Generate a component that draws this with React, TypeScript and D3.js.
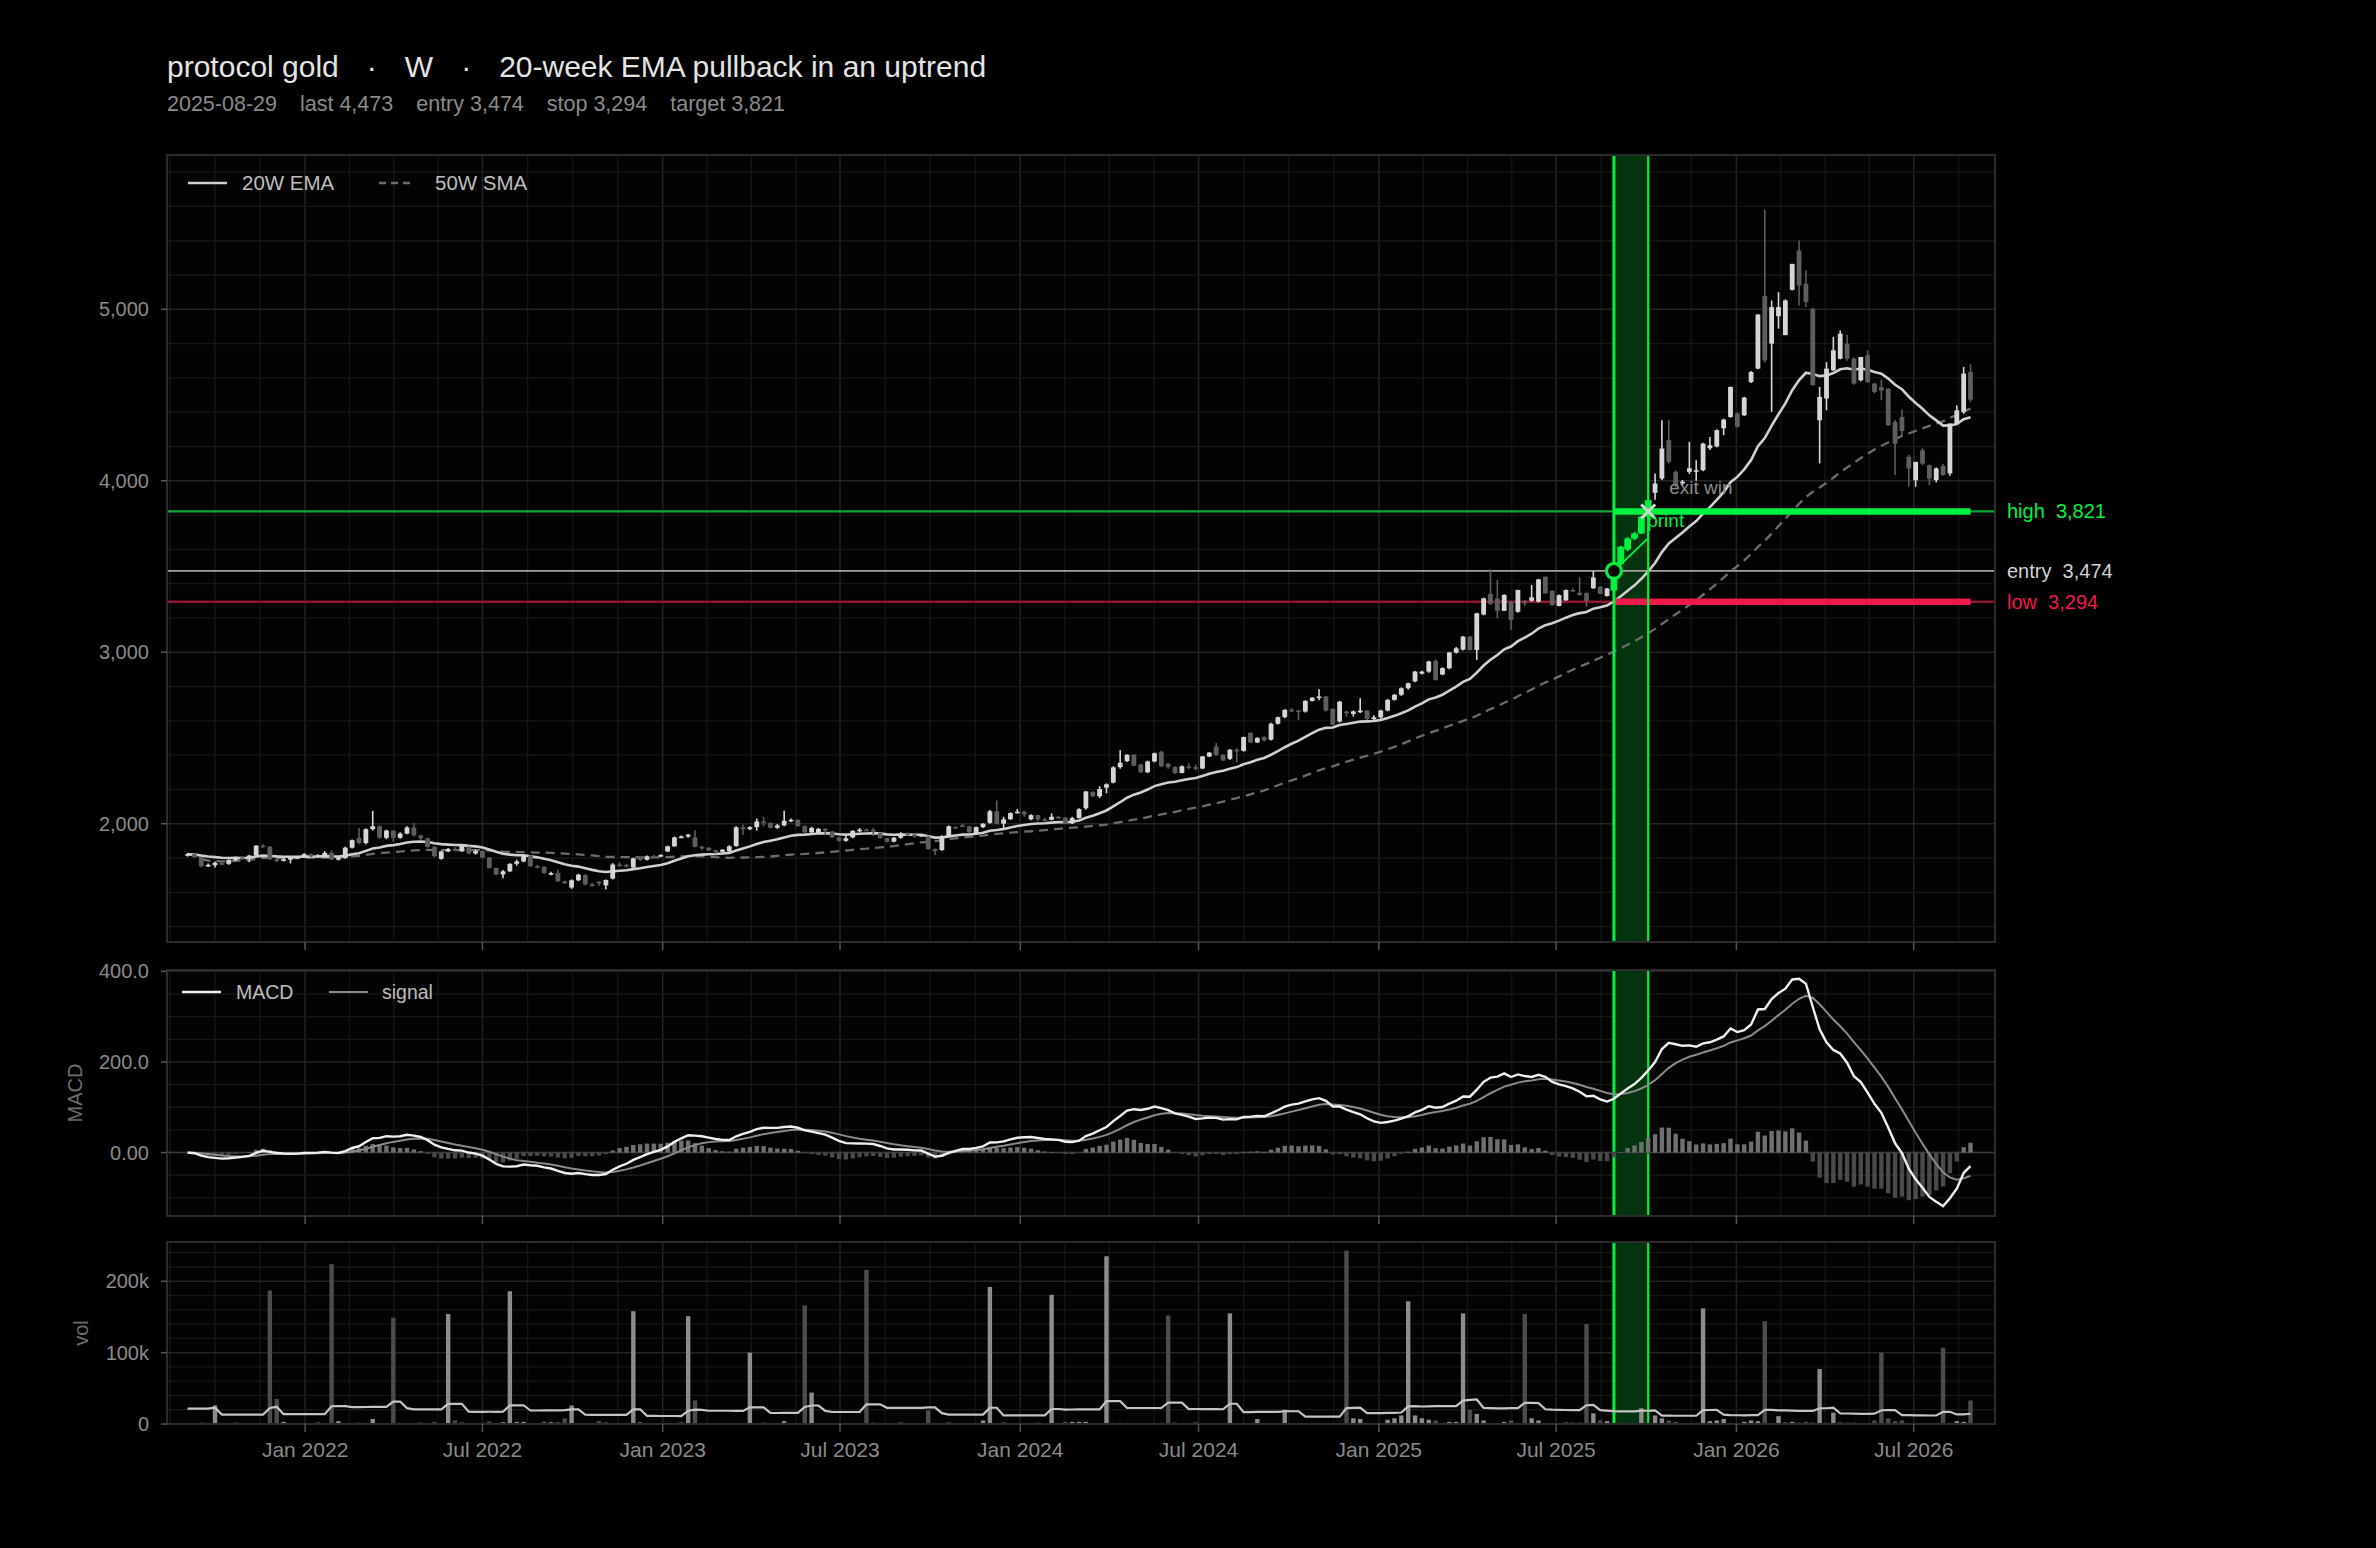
import React from 'react';
import * as d3 from 'd3';

// ---------------- data ----------------
const START_DATE = '2021-09-03';
const SIGNAL_DATE = '2025-08-29';
const ENTRY_PRICE = 3474;
const STOP_PRICE = 3294;
const TARGET_PRICE = 3821;
const LAST_PRICE = 4473;
const ENTRY_INDEX = 208;
const EXIT_INDEX = 213;
const TRADE_PATH = [3474, 3666];

const opens = [
  1815,1822,1805,1752,1758,1770,1766,1788,1802,1800,
  1815,1872,1866,1792,1785,1792,1800,1806,1822,1810,
  1815,1830,1792,1800,1860,1917,1887,1968,1985,1918,
  1960,1918,1942,1978,1932,1915,1864,1795,1838,1852,
  1840,1865,1826,1840,1802,1742,1704,1722,1766,1780,
  1814,1752,1748,1712,1712,1664,1628,1670,1700,1646,
  1662,1640,1680,1762,1760,1745,1798,1790,1810,1808,
  1838,1868,1920,1925,1920,1865,1860,1845,1836,1840,
  1870,1979,1968,1980,2013,2004,1976,1990,2017,2023,
  1986,1950,1946,1970,1955,1920,1900,1920,1958,1965,
  1964,1945,1916,1895,1918,1942,1936,1926,1925,1852,
  1846,1926,1980,1990,1984,1942,1980,2005,2072,2000,
  2026,2062,2070,2025,2050,2025,2023,2040,2035,2002,
  2033,2090,2185,2160,2210,2240,2330,2365,2402,2345,
  2300,2363,2420,2350,2330,2296,2335,2330,2322,2392,
  2450,2402,2378,2431,2425,2530,2474,2505,2490,2583,
  2621,2664,2660,2654,2716,2735,2742,2670,2596,2654,
  2640,2650,2660,2610,2620,2660,2722,2752,2790,2830,
  2875,2887,2950,2870,2907,2998,3015,3091,3013,3220,
  3340,3314,3242,3294,3236,3300,3300,3295,3440,3359,
  3270,3302,3363,3347,3345,3373,3382,3328,3360,3515,
  3600,3663,3693,3790,3930,4013,4237,4052,3990,4052,
  4055,4062,4190,4200,4306,4372,4392,4382,4576,4654,
  5077,4800,4960,4850,5114,5343,5149,5003,4353,4480,
  4644,4712,4800,4712,4586,4732,4567,4546,4537,4343,
  4372,4140,4003,4178,4091,4004,4086,4043,4334,4400,
  4635,
];
const highs = [
  1830,1826,1808,1768,1780,1778,1792,1808,1810,1818,
  1875,1880,1870,1798,1800,1810,1812,1828,1826,1822,
  1840,1845,1806,1866,1908,1975,1972,2075,1990,1965,
  1962,1950,1985,2004,1935,1918,1870,1840,1858,1862,
  1876,1870,1850,1845,1806,1745,1730,1770,1790,1818,
  1818,1760,1752,1720,1732,1668,1675,1708,1706,1655,
  1665,1675,1770,1775,1765,1802,1805,1815,1818,1822,
  1872,1925,1932,1940,1962,1872,1862,1848,1852,1874,
  1985,1995,1985,2030,2040,2008,1998,2076,2030,2026,
  1990,1982,1975,1975,1958,1922,1932,1962,1975,1972,
  1975,1948,1918,1922,1950,1948,1945,1940,1930,1855,
  1932,1990,1986,2000,1988,1984,2002,2080,2135,2040,
  2066,2085,2075,2055,2052,2035,2060,2046,2040,2040,
  2090,2190,2190,2218,2235,2335,2430,2405,2405,2350,
  2368,2415,2425,2352,2335,2340,2352,2345,2395,2418,
  2470,2405,2435,2440,2508,2534,2505,2510,2588,2624,
  2668,2675,2665,2720,2738,2784,2745,2672,2716,2660,
  2660,2732,2662,2632,2665,2728,2756,2795,2822,2890,
  2892,2950,2960,2912,3002,3030,3095,3095,3230,3318,
  3483,3421,3338,3300,3365,3305,3392,3428,3442,3360,
  3336,3366,3372,3436,3350,3473,3385,3375,3520,3620,
  3670,3700,3795,3890,4043,4353,4353,4060,4005,4227,
  4120,4222,4256,4300,4362,4550,4400,4490,4640,4970,
  5580,5052,5100,5058,5265,5401,5226,5008,4547,4692,
  4838,4877,4850,4720,4722,4760,4570,4590,4540,4355,
  4415,4150,4110,4190,4095,4078,4100,4334,4440,4664,
  4680,
];
const lows = [
  1808,1800,1745,1748,1745,1758,1760,1782,1792,1775,
  1810,1860,1788,1775,1780,1768,1795,1800,1805,1802,
  1810,1788,1785,1795,1855,1880,1880,1960,1912,1910,
  1895,1912,1938,1925,1905,1860,1805,1790,1835,1840,
  1835,1822,1820,1798,1738,1700,1682,1718,1755,1775,
  1748,1740,1708,1700,1660,1648,1620,1665,1640,1632,
  1636,1616,1675,1748,1745,1740,1782,1785,1798,1805,
  1835,1865,1915,1918,1862,1848,1840,1825,1830,1835,
  1866,1935,1962,1960,1985,1972,1970,1985,2010,1982,
  1946,1944,1940,1935,1916,1895,1895,1915,1950,1958,
  1928,1912,1890,1892,1912,1930,1918,1922,1848,1818,
  1842,1920,1975,1980,1945,1938,1975,2000,1996,1975,
  2022,2060,2040,2020,2014,2018,2020,2030,1998,1998,
  2030,2082,2155,2150,2178,2235,2320,2360,2335,2296,
  2295,2358,2330,2320,2290,2294,2318,2310,2318,2388,
  2395,2366,2372,2360,2420,2470,2470,2480,2485,2578,
  2615,2650,2605,2648,2712,2720,2655,2575,2590,2625,
  2625,2645,2605,2595,2612,2655,2718,2745,2782,2825,
  2870,2880,2835,2866,2900,2992,3010,3010,2955,3215,
  3275,3198,3240,3130,3230,3270,3295,3290,3342,3272,
  3268,3300,3355,3330,3265,3370,3340,3325,3345,3505,
  3590,3655,3690,3780,3890,4005,4100,3960,3975,4040,
  4000,4055,4180,4195,4266,4368,4310,4378,4570,4650,
  4690,4402,4887,4848,5110,5022,5013,4557,4101,4411,
  4640,4708,4700,4560,4580,4570,4510,4470,4320,4033,
  4265,3965,3965,4090,3975,3990,4030,4030,4330,4390,
  4460,
];
const closes = [
  1822,1805,1752,1760,1772,1766,1788,1802,1800,1814,
  1872,1866,1792,1785,1792,1800,1806,1822,1810,1815,
  1830,1792,1800,1860,1904,1887,1968,1985,1918,1960,
  1918,1942,1978,1932,1915,1864,1810,1838,1852,1850,
  1872,1826,1840,1802,1742,1704,1722,1766,1780,1814,
  1752,1748,1712,1712,1664,1652,1670,1703,1646,1642,
  1652,1672,1762,1760,1752,1798,1790,1810,1808,1818,
  1868,1920,1925,1936,1865,1860,1845,1836,1848,1868,
  1979,1968,1980,2013,2004,1976,1990,2017,2023,1986,
  1950,1975,1970,1965,1920,1900,1915,1958,1965,1964,
  1960,1916,1895,1918,1942,1936,1926,1935,1852,1840,
  1926,1985,1979,1984,1950,1980,2000,2072,2000,2025,
  2062,2070,2054,2050,2025,2023,2040,2037,2002,2033,
  2085,2188,2160,2202,2230,2328,2355,2402,2338,2300,
  2363,2411,2335,2330,2296,2335,2330,2320,2392,2414,
  2402,2369,2431,2425,2505,2474,2500,2485,2583,2621,
  2664,2660,2654,2716,2735,2742,2660,2577,2712,2645,
  2655,2660,2610,2620,2660,2722,2752,2790,2819,2887,
  2887,2946,2838,2907,2998,3023,3091,3013,3227,3314,
  3282,3242,3334,3188,3363,3285,3320,3425,3343,3275,
  3333,3363,3362,3334,3300,3436,3340,3372,3515,3615,
  3663,3693,3790,3887,3984,4188,4110,3975,3994,4073,
  4062,4217,4207,4295,4357,4547,4315,4485,4634,4970,
  4702,5013,5013,5052,5265,5139,5042,4557,4489,4654,
  4761,4858,4712,4567,4722,4576,4518,4527,4324,4217,
  4290,4072,4110,4100,4013,4072,4033,4334,4411,4625,
  4473,
];
// weekly volume, thousands
const volumesK = [
  1.5,1.2,2,1.5,26,1.5,1.2,1.8,1.5,1.2,
  1.5,1.5,187,35,3,1.5,1.2,1.5,1.2,2,
  1.5,224,4,1.5,1.5,2,1.5,7,1.5,1.2,
  149,1.5,1.2,1.5,2,1.5,3,1.2,154,5,
  2,1.5,1.2,1.5,3.5,1.5,2.5,186,3,3,
  1.5,1.2,3.5,2.5,2.5,8,26,1.5,1.2,1.5,
  4,2,1.5,1.2,1.5,158,3,1.5,1.2,1.5,
  1.2,1.5,2,151,33,1.5,1.2,1.5,1.2,1.5,
  1.2,1.5,100,1.5,2,1.2,1.5,4,1.2,1.5,
  166,44,1.5,1.2,1.5,1.2,1.5,1.2,1.5,216,
  2,1.5,1.2,1.5,2,1.2,1.5,1.2,19,1.5,
  1.2,2,1.5,1.2,1.5,1.2,5,192,1.5,2,
  1.2,1.5,1.2,1.5,2,1.2,181,1.5,3,3,
  3,3,1.5,1.2,235,1.5,1.5,1.5,1.5,1.2,
  1.5,1.2,1.5,152,2,1.2,1.5,2.5,1.2,1.5,
  1.2,1.5,155,1.2,1.5,1.2,7,1.5,1.2,1.5,
  20,1.2,1.5,1.2,1.5,1.2,1.5,1.2,1.5,243,
  8,7,1.5,1.2,1.5,6,8,12,172,12,
  8,6,5,1.5,3,3,155,20,14,5,
  1.5,1.2,3,5,1.5,154,8,5,1.5,1.2,
  1.5,2,2,2,140,15,5,4,1.2,1.5,
  1,1.2,22,1.5,12,8,5,3,1.5,1.2,
  1.5,162,4,5,7,1.5,1.2,3,5,4,
  144,1.5,11,2,3,2,3,2,77,1.5,
  16,2,2,2,1.5,1.5,5,100,8,4,
  5,1.5,1.2,1.5,1.5,1.5,107,1.5,4,3,
  33,
];
// the 19 weeks before the first drawn bar (warm-up of the volume average)
const volumesPriorK = [1.5,1.5,1.5,1.5,195,1.5,1.5,1.5,1.5,1.5,1.5,1.5,1.5,210,1.5,1.5,1.5,1.5,1.5];

const priceTicks = [2000, 3000, 4000, 5000];
const macdTicks = [0, 200, 400];
const macdTickLabels = ['0.00', '200.0', '400.0'];
const volTicks = [0, 100000, 200000];
const volTickLabels = ['0', '100k', '200k'];

const priceDomain = [1310, 5900];
const macdDomain = [-140, 403];
const volDomain = [0, 255000];

// ---------------- helpers ----------------
function ema(arr: number[], n: number): number[] {
  const k = 2 / (n + 1);
  const out: number[] = [];
  arr.forEach((v, i) => out.push(i === 0 ? v : v * k + out[i - 1] * (1 - k)));
  return out;
}
function sma(arr: number[], n: number): number[] {
  return arr.map((_, i) => d3.mean(arr.slice(Math.max(0, i - n + 1), i + 1)) as number);
}

const FONT = "'Liberation Sans', Arial, Helvetica, sans-serif";
const GREEN = '#00f23e';
const RED = '#ef1a4a';

export default function App() {
  const W = 2376, H = 1548;
  const L = 167, R = 1995;
  const main = { top: 155, bottom: 942 };
  const mp = { top: 970, bottom: 1216 };
  const vp = { top: 1242, bottom: 1424 };

  const start = d3.timeParse('%Y-%m-%d')(START_DATE)!;
  const n = closes.length;
  const dates = closes.map((_, i) => d3.timeDay.offset(start, 7 * i));
  const x = d3.scaleTime()
    .domain([d3.timeDay.offset(start, -21), d3.timeDay.offset(dates[n - 1], 25)])
    .range([L, R]);
  const yP = d3.scaleLinear().domain(priceDomain).range([main.bottom, main.top]);
  const yM = d3.scaleLinear().domain(macdDomain).range([mp.bottom, mp.top]);
  const yV = d3.scaleLinear().domain(volDomain).range([vp.bottom, vp.top]);

  const ema20 = ema(closes, 20);
  const sma50 = sma(closes, 50);
  const ema12 = ema(closes, 12);
  const ema26 = ema(closes, 26);
  const macd = ema12.map((v, i) => v - ema26[i]);
  const signal = ema(macd, 9);
  const hist = macd.map((v, i) => v - signal[i]);
  const volumes = volumesK.map(v => v * 1000);
  const allVol = volumesPriorK.map(v => v * 1000).concat(volumes);
  const off = volumesPriorK.length;
  const volMA = volumes.map((_, i) => d3.mean(allVol.slice(Math.max(0, i + off - 19), i + off + 1)) as number);

  const majors = x.ticks(d3.timeMonth.every(6)!);
  const halfYears = d3.timeMonth.every(6)!.range(new Date(2021, 0, 1), new Date(2027, 6, 2));
  const minors: Date[] = [];
  for (let k = 0; k < halfYears.length - 1; k++) {
    const a = +halfYears[k], b = +halfYears[k + 1];
    for (let q = 1; q < 4; q++) minors.push(new Date(a + (b - a) * q / 4));
  }
  const inX = (d: Date) => x(d) > L + 0.5 && x(d) < R - 0.5;

  const xEntry = x(dates[ENTRY_INDEX]);
  const xExit = x(dates[EXIT_INDEX]);
  const xLastBar = x(dates[n - 1]);
  const signalDate = d3.timeParse('%Y-%m-%d')(SIGNAL_DATE)!;

  const line = (ys: number[], yScale: (v: number) => number) =>
    d3.line<number>().x((_, i) => x(dates[i])).y(v => yScale(v))(ys) || '';

  const fmt = d3.format(',');

  const vGrid = (top: number, bottom: number) => (
    <g>
      {minors.filter(inX).map((d, i) => (
        <line key={'mn' + i} x1={x(d)} x2={x(d)} y1={top} y2={bottom} stroke="#161616" strokeWidth={1.3} />
      ))}
      {majors.filter(inX).map((d, i) => (
        <line key={'mj' + i} x1={x(d)} x2={x(d)} y1={top} y2={bottom} stroke="#232323" strokeWidth={1.5} />
      ))}
    </g>
  );
  const hGrid = (vals: number[], majorVals: number[], yS: (v: number) => number, key: string) => (
    <g>
      {vals.map((v, i) => (
        <line key={key + i} x1={L} x2={R} y1={yS(v)} y2={yS(v)}
          stroke={majorVals.includes(v) ? '#242424' : '#171717'} strokeWidth={majorVals.includes(v) ? 1.5 : 1.3} />
      ))}
    </g>
  );
  const xTicks = (bottom: number) => (
    <g>
      {majors.filter(inX).map((d, i) => (
        <line key={'xt' + i} x1={x(d)} x2={x(d)} y1={bottom} y2={bottom + 8} stroke="#555" strokeWidth={1.5} />
      ))}
    </g>
  );
  const yTicks = (vals: number[], labels: string[], yS: (v: number) => number) => (
    <g>
      {vals.map((v, i) => (
        <g key={'yt' + i}>
          <line x1={L - 6} x2={L} y1={yS(v)} y2={yS(v)} stroke="#555" strokeWidth={1.5} />
          <text x={149} y={yS(v)} dy="0.35em" textAnchor="end" fontSize={20} fill="#8a8a8a">{labels[i]}</text>
        </g>
      ))}
    </g>
  );
  const band = (top: number, bottom: number) => (
    <g>
      <rect x={xEntry} y={top} width={xExit - xEntry} height={bottom - top} fill="#03330f" />
      <line x1={xEntry} x2={xEntry} y1={top} y2={bottom} stroke={GREEN} strokeWidth={3} />
      <line x1={xExit} x2={xExit} y1={top} y2={bottom} stroke={GREEN} strokeWidth={2.2} />
    </g>
  );
  const frame = (top: number, bottom: number) => (
    <rect x={L} y={top} width={R - L} height={bottom - top} fill="none" stroke="#2c2c2c" strokeWidth={2} />
  );

  const bodyW = 4.8;
  const histW = 4.4;

  return (
    <svg width={W} height={H} viewBox={`0 0 ${W} ${H}`} fontFamily={FONT}
      style={{ position: 'absolute', left: 0, top: 0, display: 'block', background: '#000' }}>
      <defs>
        <clipPath id="clipMain"><rect x={L} y={main.top} width={R - L} height={main.bottom - main.top} /></clipPath>
        <clipPath id="clipMacd"><rect x={L} y={mp.top} width={R - L} height={mp.bottom - mp.top} /></clipPath>
        <clipPath id="clipVol"><rect x={L} y={vp.top} width={R - L} height={vp.bottom - vp.top} /></clipPath>
      </defs>
      <rect x={0} y={0} width={W} height={H} fill="#000" />

      {/* title */}
      <text x={167} y={77} fontSize={30} fill="#e4e4e4">
        <tspan>protocol gold</tspan>
        <tspan dx={28}>·</tspan>
        <tspan dx={28}>W</tspan>
        <tspan dx={28}>·</tspan>
        <tspan dx={28}>20-week EMA pullback in an uptrend</tspan>
      </text>
      <text x={167} y={111} fontSize={21.5} fill="#8a8a8a">
        <tspan>{d3.timeFormat('%Y-%m-%d')(signalDate)}</tspan>
        <tspan dx={23}>{`last ${fmt(LAST_PRICE)}`}</tspan>
        <tspan dx={23}>{`entry ${fmt(ENTRY_PRICE)}`}</tspan>
        <tspan dx={23}>{`stop ${fmt(STOP_PRICE)}`}</tspan>
        <tspan dx={23}>{`target ${fmt(TARGET_PRICE)}`}</tspan>
      </text>

      {/* ================= main panel ================= */}
      <rect x={L} y={main.top} width={R - L} height={main.bottom - main.top} fill="#030303" />
      {vGrid(main.top, main.bottom)}
      {hGrid(d3.range(1400, 5900, 200), priceTicks, yP, 'pg')}
      <g clipPath="url(#clipMain)">
        <rect x={xEntry} y={main.top} width={xExit - xEntry} height={main.bottom - main.top} fill="#03330f" />
        {/* reference lines (full width) */}
        <line x1={L} x2={R} y1={yP(TARGET_PRICE)} y2={yP(TARGET_PRICE)} stroke="#12a834" strokeWidth={2.2} />
        <line x1={L} x2={R} y1={yP(ENTRY_PRICE)} y2={yP(ENTRY_PRICE)} stroke="#a0a0a0" strokeWidth={1.8} />
        <line x1={L} x2={R} y1={yP(STOP_PRICE)} y2={yP(STOP_PRICE)} stroke="#8e1630" strokeWidth={2.6} />
        {/* moving averages */}
        <path d={line(sma50, yP)} fill="none" stroke="#6c6c6c" strokeWidth={2.3} strokeDasharray="9,6" />
        <path d={line(ema20, yP)} fill="none" stroke="#cfcfcf" strokeWidth={2.6} />
        {/* thick trade levels */}
        <line x1={xEntry} x2={xLastBar} y1={yP(TARGET_PRICE)} y2={yP(TARGET_PRICE)} stroke={GREEN} strokeWidth={6.5} />
        <line x1={xEntry} x2={xLastBar} y1={yP(STOP_PRICE)} y2={yP(STOP_PRICE)} stroke={RED} strokeWidth={6.5} />
        {/* candles */}
        {closes.map((c, i) => {
          const o = opens[i];
          const up = c >= o;
          const trade = i >= ENTRY_INDEX && i <= EXIT_INDEX;
          const col = trade ? GREEN : up ? '#d6d6d6' : '#5e5e5e';
          const cx = x(dates[i]);
          const yTop = yP(Math.max(o, c));
          const hgt = Math.max(1.6, Math.abs(yP(o) - yP(c)));
          return (
            <g key={'c' + i}>
              <line x1={cx} x2={cx} y1={yP(highs[i])} y2={yP(lows[i])} stroke={col} strokeWidth={trade ? 2.4 : 1.6} />
              <rect x={cx - (trade ? 3.4 : bodyW / 2)} y={yTop} width={trade ? 6.8 : bodyW} height={hgt} fill={col} />
            </g>
          );
        })}
        <line x1={xEntry} x2={xExit} y1={yP(TRADE_PATH[0])} y2={yP(TRADE_PATH[1])} stroke={GREEN} strokeWidth={1.8} />
        <line x1={xEntry} x2={xEntry} y1={main.top} y2={main.bottom} stroke={GREEN} strokeWidth={3} />
        <line x1={xExit} x2={xExit} y1={main.top} y2={main.bottom} stroke={GREEN} strokeWidth={2.2} />
        <circle cx={xEntry} cy={yP(ENTRY_PRICE)} r={7.5} fill="#000" stroke={GREEN} strokeWidth={3.2} />
        <g stroke="#d4d4d4" strokeWidth={3}>
          <line x1={xExit - 7} x2={xExit + 7} y1={yP(TARGET_PRICE) - 7} y2={yP(TARGET_PRICE) + 7} />
          <line x1={xExit - 7} x2={xExit + 7} y1={yP(TARGET_PRICE) + 7} y2={yP(TARGET_PRICE) - 7} />
        </g>
        <text x={xExit + 21} y={yP(TARGET_PRICE) - 17} fontSize={19} fill="#8a8a8a">exit win</text>
        <text x={xExit - 1} y={yP(TARGET_PRICE) + 16} fontSize={19} fill={GREEN}>print</text>
      </g>
      {frame(main.top, main.bottom)}
      {yTicks(priceTicks, priceTicks.map(fmt), yP)}
      {xTicks(main.bottom)}
      {/* legend */}
      <line x1={188} x2={227} y1={183} y2={183} stroke="#cfcfcf" strokeWidth={2.6} />
      <text x={242} y={183} dy="0.35em" fontSize={20.5} fill="#bdbdbd">20W EMA</text>
      <line x1={379} x2={414} y1={183} y2={183} stroke="#6c6c6c" strokeWidth={2.3} strokeDasharray="7,5" />
      <text x={435} y={183} dy="0.35em" fontSize={20.5} fill="#bdbdbd">50W SMA</text>
      {/* right-side level labels */}
      <text x={2007} y={yP(TARGET_PRICE)} dy="0.35em" fontSize={20} fill={GREEN} style={{ whiteSpace: 'pre' }}>{`high  ${fmt(TARGET_PRICE)}`}</text>
      <text x={2007} y={yP(ENTRY_PRICE)} dy="0.35em" fontSize={20} fill="#d2d2d2" style={{ whiteSpace: 'pre' }}>{`entry  ${fmt(ENTRY_PRICE)}`}</text>
      <text x={2007} y={yP(STOP_PRICE)} dy="0.35em" fontSize={20} fill={RED} style={{ whiteSpace: 'pre' }}>{`low  ${fmt(STOP_PRICE)}`}</text>

      {/* ================= MACD panel ================= */}
      <rect x={L} y={mp.top} width={R - L} height={mp.bottom - mp.top} fill="#030303" />
      {vGrid(mp.top, mp.bottom)}
      {hGrid(d3.range(-100, 401, 50), macdTicks, yM, 'mg')}
      <g clipPath="url(#clipMacd)">
        {band(mp.top, mp.bottom)}
        <line x1={L} x2={R} y1={yM(0)} y2={yM(0)} stroke="#3a3a3a" strokeWidth={1.5} />
        {hist.map((h, i) => (
          <rect key={'h' + i} x={x(dates[i]) - histW / 2} y={Math.min(yM(0), yM(h))} width={histW}
            height={Math.abs(yM(h) - yM(0))} fill={h >= 0 ? '#707070' : '#4a4a4a'} />
        ))}
        <path d={line(signal, yM)} fill="none" stroke="#8a8a8a" strokeWidth={2} />
        <path d={line(macd, yM)} fill="none" stroke="#efefef" strokeWidth={2.4} />
      </g>
      {frame(mp.top, mp.bottom)}
      {yTicks(macdTicks, macdTickLabels, yM)}
      {xTicks(mp.bottom)}
      <text transform={`translate(82,${(mp.top + mp.bottom) / 2}) rotate(-90)`} textAnchor="middle" fontSize={20} fill="#6e6e6e">MACD</text>
      <line x1={182} x2={221} y1={992} y2={992} stroke="#efefef" strokeWidth={2.4} />
      <text x={236} y={992} dy="0.35em" fontSize={19.5} fill="#bdbdbd">MACD</text>
      <line x1={329} x2={368} y1={992} y2={992} stroke="#8a8a8a" strokeWidth={2} />
      <text x={382} y={992} dy="0.35em" fontSize={19.5} fill="#bdbdbd">signal</text>

      {/* ================= volume panel ================= */}
      <rect x={L} y={vp.top} width={R - L} height={vp.bottom - vp.top} fill="#030303" />
      {vGrid(vp.top, vp.bottom)}
      {hGrid(d3.range(0, 255000, 20000), [0, 100000, 200000], yV, 'vg')}
      <g clipPath="url(#clipVol)">
        {band(vp.top, vp.bottom)}
        {volumes.map((v, i) => (
          <rect key={'v' + i} x={x(dates[i]) - histW / 2} y={yV(v)} width={histW} height={yV(0) - yV(v)}
            fill={closes[i] >= opens[i] ? '#8c8c8c' : '#4c4c4c'} />
        ))}
        <path d={line(volMA, yV)} fill="none" stroke="#c4c4c4" strokeWidth={2.2} />
      </g>
      {frame(vp.top, vp.bottom)}
      {yTicks(volTicks, volTickLabels, yV)}
      {xTicks(vp.bottom)}
      <text transform={`translate(88,${(vp.top + vp.bottom) / 2}) rotate(-90)`} textAnchor="middle" fontSize={20} fill="#6e6e6e">vol</text>
      {majors.filter(inX).map((d, i) => (
        <text key={'xl' + i} x={x(d)} y={1457} textAnchor="middle" fontSize={21} fill="#8a8a8a">
          {d3.timeFormat('%b %Y')(d)}
        </text>
      ))}
    </svg>
  );
}
